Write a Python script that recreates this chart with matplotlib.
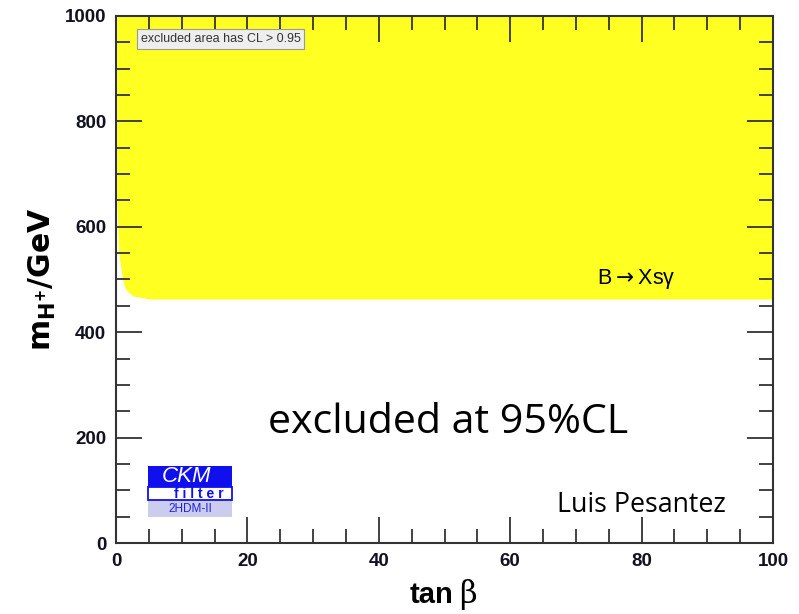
import numpy as np
import matplotlib
matplotlib.use('Agg')
import matplotlib.pyplot as plt
from matplotlib.patches import Rectangle
from matplotlib.ticker import MultipleLocator

# borde de la region excluida (B -> Xs gamma)
tanb_borde = [0.2, 0.2, 0.45, 0.6, 1.05, 1.5, 2.6, 5.2, 100]
mh_borde = [1000, 650, 557, 538, 500, 481, 468, 462, 462]

xticks = [0, 20, 40, 60, 80, 100]
yticks = [0, 200, 400, 600, 800, 1000]

fig = plt.figure(figsize=(7.99, 6.14), dpi=100)
ax = fig.add_axes([0.1452, 0.1156, 0.8223, 0.8584])

# poligono amarillo
px = tanb_borde + [100, 100]
py = mh_borde + [1000, 1000]
ax.fill(px, py, color='#ffff22', lw=0, zorder=1)

ax.set_xlim(0, 100)
ax.set_ylim(0, 1000)
ax.set_xticks(xticks)
ax.set_yticks(yticks)
ax.xaxis.set_minor_locator(MultipleLocator(5))
ax.yaxis.set_minor_locator(MultipleLocator(50))
ax.tick_params(which='both', direction='in', top=True, right=True, width=1.3, color='#333333')
ax.tick_params(which='major', length=19)
ax.tick_params(which='minor', length=10)
ax.tick_params(axis='both', labelsize=13.5, pad=7)
for lab in ax.get_xticklabels() + ax.get_yticklabels():
    lab.set_fontweight('bold')
    lab.set_family('Liberation Sans')
    lab.set_color('#111122')
for s in ax.spines.values():
    s.set_linewidth(1.5)
    s.set_color('#333333')
    s.set_zorder(5)

# etiquetas de ejes
fig.text(0.568, 0.031, 'tan', fontsize=21, fontweight='bold', family='Liberation Sans',
         ha='right', va='center')
fig.text(0.574, 0.031, 'β', fontsize=22, family='DejaVu Serif', ha='left', va='center')
ax.set_ylabel(r'$\mathbf{m_{H^{+}}/GeV}$', fontsize=21.5, labelpad=5)

# caja de leyenda
ax.text(3.75, 956, 'excluded area has CL > 0.95', fontsize=9, family='Liberation Sans',
        color='#333333', va='center', ha='left',
        bbox=dict(boxstyle='square,pad=0.3', fc='#eeeeee', ec='#999999', lw=0.8), zorder=4)

ax.text(73.2, 500, 'B' + r'$\rightarrow$' + 'Xsγ', fontsize=15.5, family='Liberation Sans',
        ha='left', va='center', zorder=4)

ax.text(50.5, 229, 'excluded at 95%CL', fontsize=29.6, family='Open Sans',
        ha='center', va='center', zorder=4)
ax.text(67.1, 72, 'Luis Pesantez', fontsize=19.3, family='Open Sans',
        ha='left', va='center', zorder=4)

# logo CKMfitter
ax.add_patch(Rectangle((4.9, 49), 12.8, 33, fc='#ccccee', ec='none', zorder=3))
ax.add_patch(Rectangle((4.9, 82), 12.8, 24, fc='white', ec='#1010ee', lw=1.3, zorder=3))
ax.add_patch(Rectangle((4.9, 106), 12.8, 40, fc='#1010ee', ec='none', zorder=3))
ax.text(10.8, 126, 'CKM', fontsize=16, style='italic', color='white',
        family='Liberation Sans', ha='center', va='center', zorder=4)
ax.text(12.6, 93, 'f i l t e r', fontsize=10, color='#1010ee', fontweight='bold',
        family='Liberation Sans', ha='center', va='center', zorder=4)
ax.text(11.3, 65, '2HDM-II', fontsize=8.5, color='#2222dd',
        family='Liberation Sans', ha='center', va='center', zorder=4)

fig.savefig('out.png', dpi=100)
